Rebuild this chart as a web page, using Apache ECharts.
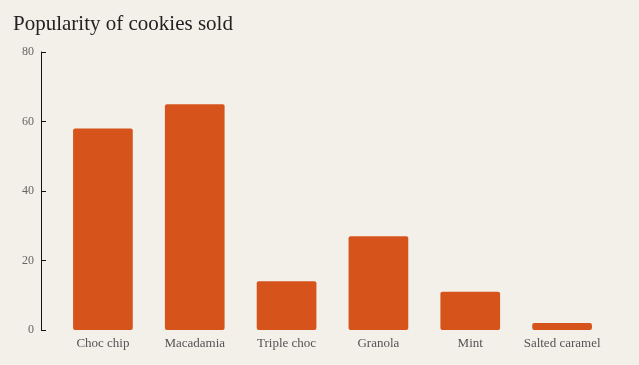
<!DOCTYPE html>
<html><head><meta charset="utf-8">
<script src="https://cdn.jsdelivr.net/npm/echarts@6/dist/echarts.min.js"></script>
<style>html,body{margin:0;padding:0;background:#f3efe9;}#c{width:639px;height:365px;}</style>
</head><body><div id="c"></div>
<script>
const categories = ['Choc chip','Macadamia','Triple choc','Granola','Mint','Salted caramel'];
const values = [58, 65, 14, 27, 11, 2];
const yTicks = [0, 20, 40, 60, 80];
const FONT = "Georgia, 'Liberation Serif', serif";
const chart = echarts.init(document.getElementById('c'));
chart.setOption({
  backgroundColor: '#f3efe9',
  animation: false,
  title: {text: 'Popularity of cookies sold', left: 8, top: 9,
    textStyle: {fontFamily: FONT, fontWeight: 'normal', fontSize: 21, color: '#222'}},
  grid: {left: 57, right: 31, top: 52, bottom: 35},
  xAxis: {type: 'category', data: categories,
    axisLine: {show: false}, axisTick: {show: false},
    axisLabel: {interval: 0, fontFamily: FONT, fontSize: 13, color: '#555', margin: 7}},
  yAxis: {type: 'value', min: yTicks[0], max: yTicks[yTicks.length-1], interval: 20, offset: 16,
    axisLine: {show: true, lineStyle: {color: '#111', width: 1}},
    axisTick: {show: true, inside: true, length: 5, lineStyle: {color: '#111'}},
    splitLine: {show: false},
    axisLabel: {fontFamily: FONT, fontSize: 12, color: '#666', margin: 7}},
  series: [{type: 'bar', data: values, barWidth: '65%',
    itemStyle: {color: '#d6541c', borderRadius: 2}}]
});
</script></body></html>
